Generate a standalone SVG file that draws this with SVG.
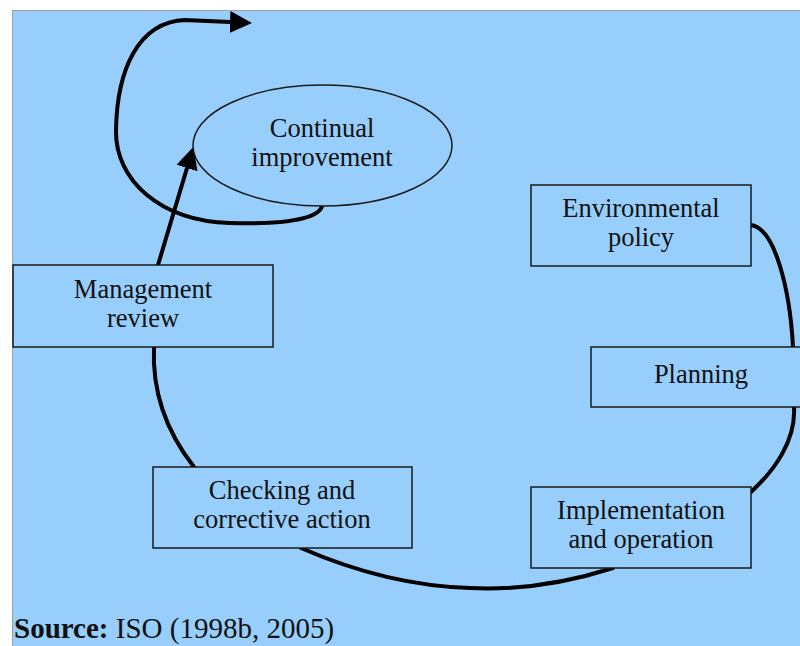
<svg xmlns="http://www.w3.org/2000/svg" width="800" height="646" viewBox="0 0 800 646">
<style>
.box{fill:#97cefb;stroke:#1a1a1a;stroke-width:1.5}
.t{font-family:"Liberation Serif","Times New Roman",serif;font-size:26.5px;fill:#111;text-anchor:middle}
.c{fill:none;stroke:#000;stroke-width:4;stroke-linecap:round}
</style>
<defs>
<marker id="ah" markerUnits="userSpaceOnUse" markerWidth="24" markerHeight="24" refX="0" refY="11" orient="auto">
<path d="M0,0 L22,11 L0,22 z" fill="#000"/>
</marker>
</defs>
<rect x="0" y="0" width="800" height="646" fill="#fff"/>
<rect x="12.5" y="10.5" width="790" height="640" fill="#97cefb" stroke="#a0a0a0" stroke-width="1"/>
<g id="connectors">
<path class="c" d="M751,225 C775,228 790,290 793,347"/>
<path class="c" d="M794,407 C796,440 775,470 751,492"/>
<path class="c" d="M613,568 C560,585 510,590 470,588 C400,586 340,565 301,548"/>
<path class="c" d="M194,467 C165,430 152,390 154,347"/>
<path class="c" d="M158,265 L187,168" marker-end="url(#ah)"/>
<path class="c" d="M322,206 C318,222 270,224 230,223 C160,221 115,180 116,130 C117,70 138,22 185,20 L230,22" marker-end="url(#ah)"/>
</g>
<g id="continual-improvement">
<ellipse cx="322.5" cy="145.5" rx="129.5" ry="60.5" fill="#97cefb" stroke="#1a1a1a" stroke-width="1.5"/>
<text class="t" x="322" y="137">Continual</text>
<text class="t" x="322" y="166">improvement</text>
</g>
<g id="environmental-policy">
<rect class="box" x="531" y="185" width="220" height="81"/>
<text class="t" x="641" y="217">Environmental</text>
<text class="t" x="641" y="246">policy</text>
</g>
<g id="planning">
<rect class="box" x="591" y="347" width="212" height="60"/>
<text class="t" x="701" y="383">Planning</text>
</g>
<g id="implementation">
<rect class="box" x="531" y="487" width="220" height="81"/>
<text class="t" x="641" y="519">Implementation</text>
<text class="t" x="641" y="548">and operation</text>
</g>
<g id="checking">
<rect class="box" x="153" y="467" width="259" height="81"/>
<text class="t" x="282" y="499">Checking and</text>
<text class="t" x="282" y="528">corrective action</text>
</g>
<g id="management-review">
<rect class="box" x="13" y="265" width="260" height="82"/>
<text class="t" x="143" y="298">Management</text>
<text class="t" x="143" y="327">review</text>
</g>
<text x="14" y="638" style="font-family:'Liberation Serif','Times New Roman',serif;font-size:29px;fill:#111"><tspan font-weight="bold">Source:</tspan> ISO (1998b, 2005)</text>
</svg>
